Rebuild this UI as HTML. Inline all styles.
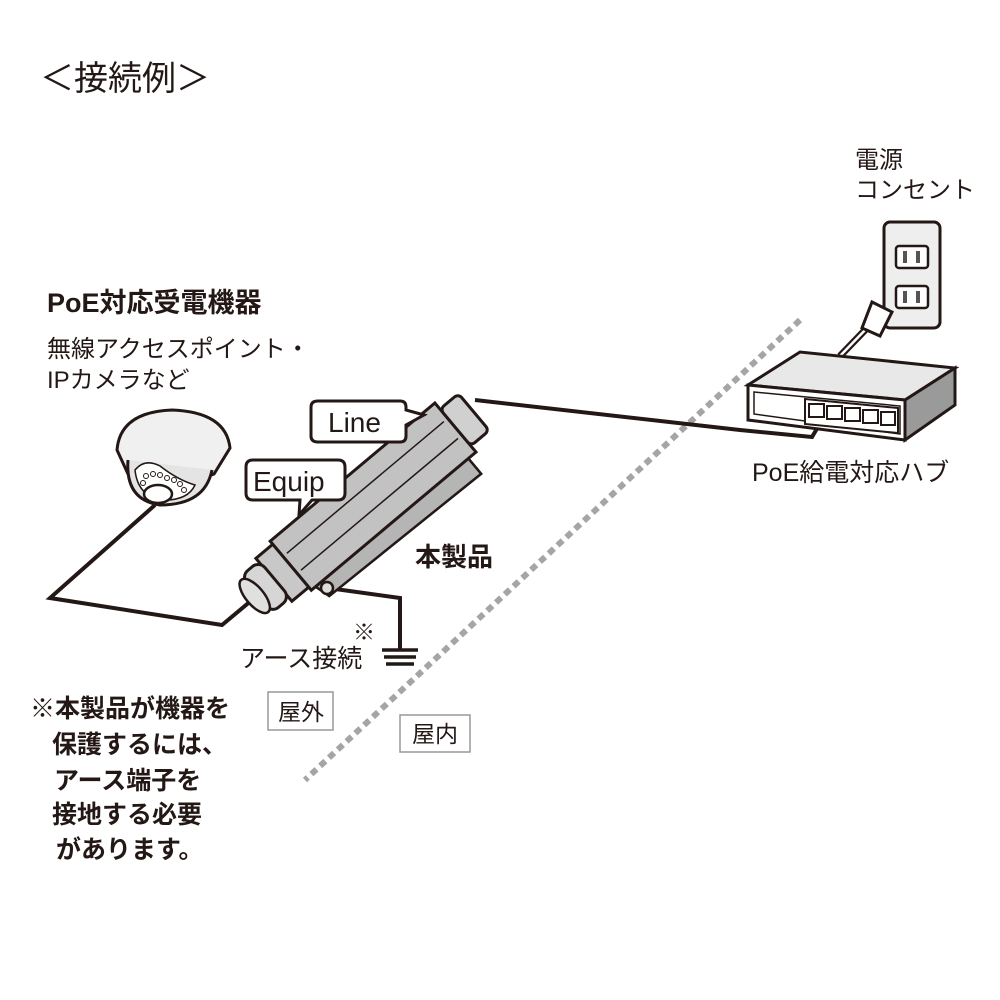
<!DOCTYPE html>
<html><head><meta charset="utf-8"><style>
html,body{margin:0;padding:0;background:#fff;}
svg{display:block;}
text{font-family:"Liberation Sans","Noto Sans CJK JP",sans-serif;fill:#231815;}
text.b{font-weight:bold;}
</style></head><body>
<svg width="1000" height="1000" viewBox="0 0 1000 1000" xmlns="http://www.w3.org/2000/svg">
<text x="40" y="90" font-size="34">＜接続例＞</text>

<line x1="800" y1="320" x2="305" y2="780" stroke="#a5a5a5" stroke-width="6" stroke-dasharray="7,5"/>

<polyline points="155,505 50,598 222,625 258,595" fill="none" stroke="#231815" stroke-width="4"/>
<polyline points="475,400 740,430 812,437 828,410" fill="none" stroke="#231815" stroke-width="4"/>
<polyline points="328,588 400,598 400,650" fill="none" stroke="#231815" stroke-width="4"/>
<line x1="382" y1="650" x2="418" y2="650" stroke="#231815" stroke-width="3.5"/>
<line x1="384" y1="657" x2="416" y2="657" stroke="#231815" stroke-width="3.5"/>
<line x1="386" y1="664" x2="414" y2="664" stroke="#231815" stroke-width="3.5"/>

<rect x="884" y="222" width="56" height="106" rx="6" fill="#eeeeee" stroke="#231815" stroke-width="3"/>
<rect x="896" y="246" width="32" height="22" rx="3" fill="#fff" stroke="#231815" stroke-width="2.5"/>
<rect x="903" y="251" width="4" height="12" fill="#555"/><rect x="916" y="251" width="4" height="12" fill="#555"/>
<rect x="896" y="286" width="32" height="22" rx="3" fill="#fff" stroke="#231815" stroke-width="2.5"/>
<rect x="903" y="291" width="4" height="12" fill="#555"/><rect x="916" y="291" width="4" height="12" fill="#555"/>
<line x1="868" y1="327" x2="840" y2="356" stroke="#231815" stroke-width="7"/>
<line x1="868" y1="327" x2="840" y2="356" stroke="#fff" stroke-width="2.5"/>
<polygon points="872,302 892,312 880,336 862,328" fill="#fff" stroke="#231815" stroke-width="3"/>

<polygon points="748,385 800,352 955,368 905,400" fill="#e8e8e8" stroke="#231815" stroke-width="3"/>
<polygon points="905,400 955,368 955,405 905,440" fill="#9a9a9a" stroke="#231815" stroke-width="3"/>
<polygon points="748,385 905,400 905,440 748,420" fill="#fff" stroke="#231815" stroke-width="3"/>
<polygon points="754,392 900,406 900,434 754,414" fill="none" stroke="#231815" stroke-width="1.5"/>
<polygon points="805,399 898,408 898,433 805,424" fill="#fff" stroke="#231815" stroke-width="2"/>
<g fill="#fff" stroke="#231815" stroke-width="2">
<rect x="809" y="404" width="15" height="13"/><rect x="827" y="406" width="15" height="13"/>
<rect x="845" y="408" width="15" height="13"/><rect x="863" y="410" width="15" height="13"/><rect x="881" y="412" width="14" height="13"/>
</g>

<path d="M117,450 Q120,412 172,410 Q226,412 230,448 L214,474 Q170,492 128,474 Z" fill="#f0f0f0" stroke="#231815" stroke-width="3"/>
<path d="M128,460 Q125,500 160,505 Q205,505 212,470" fill="#e4e4e4" stroke="#231815" stroke-width="3"/>
<path d="M135,470 Q145,458 160,466 Q178,480 195,485 Q188,500 165,500 Q138,498 135,470Z" fill="#fff" stroke="#231815" stroke-width="1.5"/>
<ellipse cx="158" cy="494" rx="14" ry="9" fill="#fff" stroke="#231815" stroke-width="2.5"/>
<g fill="#fff" stroke="#231815" stroke-width="1"><circle cx="146" cy="476" r="2.5"/><circle cx="153" cy="474" r="2.5"/><circle cx="160" cy="475" r="2.5"/><circle cx="167" cy="478" r="2.5"/><circle cx="174" cy="480" r="2.5"/><circle cx="180" cy="484" r="2.5"/><circle cx="143" cy="483" r="2.5"/><circle cx="184" cy="490" r="2.5"/></g>

<g transform="translate(375,495) rotate(-40)">
 <polygon points="-105,30 95,30 95,52 -100,48" fill="#b5b5b5" stroke="#231815" stroke-width="2.5"/>
 <rect x="-110" y="-32" width="215" height="64" fill="#c2c2c2" stroke="#231815" stroke-width="3"/>
 <line x1="-105" y1="-12" x2="100" y2="-12" stroke="#231815" stroke-width="1.5"/>
 <line x1="-105" y1="10" x2="100" y2="10" stroke="#231815" stroke-width="1.5"/>
 <rect x="105" y="-24" width="24" height="48" rx="5" fill="#d0d0d0" stroke="#231815" stroke-width="3"/>
 <rect x="-132" y="-28" width="22" height="56" fill="#c8c8c8" stroke="#231815" stroke-width="3"/>
 <rect x="-155" y="-24" width="24" height="48" rx="9" fill="#d6d6d6" stroke="#231815" stroke-width="3"/>
 <ellipse cx="-157" cy="0" rx="9" ry="21" fill="#e0e0e0" stroke="#231815" stroke-width="2.5"/>
</g>
<circle cx="327" cy="588" r="6" fill="#ddd" stroke="#231815" stroke-width="2.5"/>

<path d="M318,401 H400 Q406,401 406,407 V410 L424,415 L406,425 V436 Q406,442 400,442 H318 Q311,442 311,436 V407 Q311,401 318,401Z" fill="#fff" stroke="#231815" stroke-width="3"/>
<text x="328" y="432" font-size="28">Line</text>
<path d="M253,460 H338 Q345,460 345,467 V493 Q345,500 338,500 H312 L299,515 L300,500 H253 Q246,500 246,493 V467 Q246,460 253,460Z" fill="#fff" stroke="#231815" stroke-width="3"/>
<text x="253" y="491" font-size="28">Equip</text>

<text x="855" y="168" font-size="24">電源</text>
<text x="855" y="198" font-size="24">コンセント</text>
<text class="b" x="47" y="312" font-size="27">PoE対応受電機器</text>
<text x="47" y="357" font-size="24">無線アクセスポイント・</text>
<text x="47" y="388" font-size="24">IPカメラなど</text>
<text x="752" y="481" font-size="25">PoE給電対応ハブ</text>
<text class="b" x="415" y="566" font-size="26">本製品</text>
<text x="353" y="640" font-size="22">※</text>
<text x="240" y="667" font-size="25">アース接続</text>
<rect x="268" y="692" width="65" height="38" fill="#fff" stroke="#999" stroke-width="1.5"/>
<text x="278" y="720" font-size="23">屋外</text>
<rect x="400" y="715" width="70" height="37" fill="#fff" stroke="#999" stroke-width="1.5"/>
<text x="412" y="742" font-size="23">屋内</text>
<text class="b" x="30" y="717" font-size="25">※本製品が機器を</text>
<text class="b" x="52" y="753" font-size="25">保護するには、</text>
<text class="b" x="54" y="789" font-size="25">アース端子を</text>
<text class="b" x="52" y="823" font-size="25">接地する必要</text>
<text class="b" x="56" y="858" font-size="25">があります。</text>
</svg>
</body></html>
